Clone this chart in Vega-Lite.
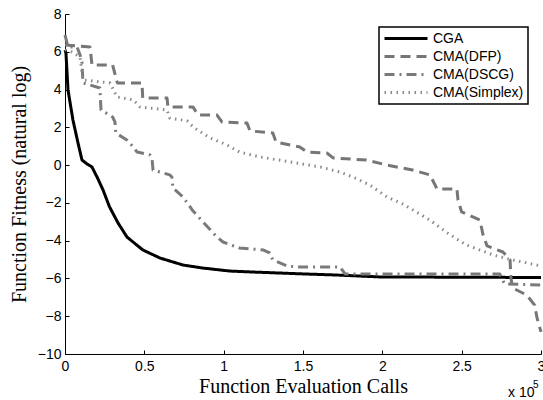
{
  "$schema": "https://vega.github.io/schema/vega-lite/v6.json",
  "width": 476,
  "height": 340,
  "autosize": {"type": "none"},
  "padding": {"left": 65, "top": 14, "right": 2, "bottom": 46},
  "background": "white",
  "resolve": {"axis": {"x": "independent", "y": "independent"}},
  "config": {
    "view": {"stroke": null},
    "axis": {
      "grid": false,
      "domainColor": "black",
      "domainWidth": 1,
      "tickColor": "black",
      "tickSize": -4,
      "labelOverlap": false,
      "labelFlush": false,
      "labelFont": "Liberation Sans",
      "labelFontSize": 14,
      "labelColor": "black",
      "titleFont": "Liberation Serif",
      "titleFontSize": 20,
      "titleFontWeight": "normal",
      "titleColor": "black"
    },
    "legend": {
      "orient": "top-right",
      "offset": 13,
      "strokeColor": "black",
      "strokeWidth": 1.5,
      "fillColor": "white",
      "padding": 4,
      "title": null,
      "labelFont": "Liberation Sans",
      "labelFontSize": 14,
      "labelColor": "black",
      "labelLimit": 300,
      "symbolType": "stroke",
      "symbolSize": 1849,
      "clipHeight": 15,
      "symbolOffset": 0,
      "labelOffset": 4,
      "rowPadding": 3
    }
  },
  "layer": [
    {
      "data": {
        "values": [
          {"method": "CGA", "x": 0, "y": 6.09},
          {"method": "CGA", "x": 0.006, "y": 5.94},
          {"method": "CGA", "x": 0.019, "y": 3.98},
          {"method": "CGA", "x": 0.05, "y": 2.39},
          {"method": "CGA", "x": 0.082, "y": 1.17},
          {"method": "CGA", "x": 0.107, "y": 0.27},
          {"method": "CGA", "x": 0.139, "y": 0.06},
          {"method": "CGA", "x": 0.17, "y": -0.1},
          {"method": "CGA", "x": 0.202, "y": -0.63},
          {"method": "CGA", "x": 0.24, "y": -1.32},
          {"method": "CGA", "x": 0.28, "y": -2.2},
          {"method": "CGA", "x": 0.334, "y": -3.06},
          {"method": "CGA", "x": 0.391, "y": -3.81},
          {"method": "CGA", "x": 0.49, "y": -4.49},
          {"method": "CGA", "x": 0.599, "y": -4.92},
          {"method": "CGA", "x": 0.744, "y": -5.29},
          {"method": "CGA", "x": 0.87, "y": -5.45},
          {"method": "CGA", "x": 1.04, "y": -5.61},
          {"method": "CGA", "x": 1.185, "y": -5.66},
          {"method": "CGA", "x": 1.5, "y": -5.76},
          {"method": "CGA", "x": 1.714, "y": -5.82},
          {"method": "CGA", "x": 1.985, "y": -5.92},
          {"method": "CGA", "x": 3.0, "y": -5.95},

          {"method": "CMA(DFP)", "x": 0, "y": 6.36},
          {"method": "CMA(DFP)", "x": 0.158, "y": 6.25},
          {"method": "CMA(DFP)", "x": 0.17, "y": 5.3},
          {"method": "CMA(DFP)", "x": 0.3, "y": 5.3},
          {"method": "CMA(DFP)", "x": 0.33, "y": 4.35},
          {"method": "CMA(DFP)", "x": 0.485, "y": 4.35},
          {"method": "CMA(DFP)", "x": 0.49, "y": 3.55},
          {"method": "CMA(DFP)", "x": 0.643, "y": 3.55},
          {"method": "CMA(DFP)", "x": 0.649, "y": 3.08},
          {"method": "CMA(DFP)", "x": 0.807, "y": 3.08},
          {"method": "CMA(DFP)", "x": 0.838, "y": 2.65},
          {"method": "CMA(DFP)", "x": 0.958, "y": 2.65},
          {"method": "CMA(DFP)", "x": 0.99, "y": 2.28},
          {"method": "CMA(DFP)", "x": 1.147, "y": 2.23},
          {"method": "CMA(DFP)", "x": 1.166, "y": 1.81},
          {"method": "CMA(DFP)", "x": 1.31, "y": 1.7},
          {"method": "CMA(DFP)", "x": 1.33, "y": 1.22},
          {"method": "CMA(DFP)", "x": 1.48, "y": 0.96},
          {"method": "CMA(DFP)", "x": 1.525, "y": 0.69},
          {"method": "CMA(DFP)", "x": 1.65, "y": 0.64},
          {"method": "CMA(DFP)", "x": 1.69, "y": 0.38},
          {"method": "CMA(DFP)", "x": 1.9, "y": 0.27},
          {"method": "CMA(DFP)", "x": 2.03, "y": 0.0},
          {"method": "CMA(DFP)", "x": 2.19, "y": -0.26},
          {"method": "CMA(DFP)", "x": 2.3, "y": -0.52},
          {"method": "CMA(DFP)", "x": 2.345, "y": -1.26},
          {"method": "CMA(DFP)", "x": 2.47, "y": -1.26},
          {"method": "CMA(DFP)", "x": 2.477, "y": -1.85},
          {"method": "CMA(DFP)", "x": 2.5, "y": -2.48},
          {"method": "CMA(DFP)", "x": 2.615, "y": -2.91},
          {"method": "CMA(DFP)", "x": 2.635, "y": -3.7},
          {"method": "CMA(DFP)", "x": 2.66, "y": -4.28},
          {"method": "CMA(DFP)", "x": 2.76, "y": -4.6},
          {"method": "CMA(DFP)", "x": 2.805, "y": -5.02},
          {"method": "CMA(DFP)", "x": 2.81, "y": -5.92},
          {"method": "CMA(DFP)", "x": 2.82, "y": -6.5},
          {"method": "CMA(DFP)", "x": 2.91, "y": -6.88},
          {"method": "CMA(DFP)", "x": 2.96, "y": -7.41},
          {"method": "CMA(DFP)", "x": 2.975, "y": -8.09},
          {"method": "CMA(DFP)", "x": 3.0, "y": -8.83},

          {"method": "CMA(DSCG)", "x": 0, "y": 6.89},
          {"method": "CMA(DSCG)", "x": 0.019, "y": 6.25},
          {"method": "CMA(DSCG)", "x": 0.076, "y": 6.25},
          {"method": "CMA(DSCG)", "x": 0.095, "y": 5.83},
          {"method": "CMA(DSCG)", "x": 0.107, "y": 5.46},
          {"method": "CMA(DSCG)", "x": 0.113, "y": 4.35},
          {"method": "CMA(DSCG)", "x": 0.22, "y": 4.08},
          {"method": "CMA(DSCG)", "x": 0.227, "y": 2.92},
          {"method": "CMA(DSCG)", "x": 0.3, "y": 2.55},
          {"method": "CMA(DSCG)", "x": 0.315, "y": 2.28},
          {"method": "CMA(DSCG)", "x": 0.32, "y": 1.7},
          {"method": "CMA(DSCG)", "x": 0.39, "y": 1.33},
          {"method": "CMA(DSCG)", "x": 0.43, "y": 0.96},
          {"method": "CMA(DSCG)", "x": 0.454, "y": 0.69},
          {"method": "CMA(DSCG)", "x": 0.536, "y": 0.54},
          {"method": "CMA(DSCG)", "x": 0.548, "y": 0.38},
          {"method": "CMA(DSCG)", "x": 0.555, "y": -0.26},
          {"method": "CMA(DSCG)", "x": 0.66, "y": -0.52},
          {"method": "CMA(DSCG)", "x": 0.674, "y": -0.63},
          {"method": "CMA(DSCG)", "x": 0.68, "y": -1.21},
          {"method": "CMA(DSCG)", "x": 0.744, "y": -1.69},
          {"method": "CMA(DSCG)", "x": 0.807, "y": -2.43},
          {"method": "CMA(DSCG)", "x": 0.87, "y": -3.01},
          {"method": "CMA(DSCG)", "x": 0.958, "y": -3.81},
          {"method": "CMA(DSCG)", "x": 0.996, "y": -4.07},
          {"method": "CMA(DSCG)", "x": 1.1, "y": -4.39},
          {"method": "CMA(DSCG)", "x": 1.248, "y": -4.49},
          {"method": "CMA(DSCG)", "x": 1.29, "y": -4.65},
          {"method": "CMA(DSCG)", "x": 1.31, "y": -5.02},
          {"method": "CMA(DSCG)", "x": 1.4, "y": -5.34},
          {"method": "CMA(DSCG)", "x": 1.46, "y": -5.39},
          {"method": "CMA(DSCG)", "x": 1.733, "y": -5.39},
          {"method": "CMA(DSCG)", "x": 1.765, "y": -5.76},
          {"method": "CMA(DSCG)", "x": 2.74, "y": -5.76},
          {"method": "CMA(DSCG)", "x": 2.77, "y": -6.29},
          {"method": "CMA(DSCG)", "x": 3.0, "y": -6.35},

          {"method": "CMA(Simplex)", "x": 0, "y": 6.1},
          {"method": "CMA(Simplex)", "x": 0.044, "y": 5.99},
          {"method": "CMA(Simplex)", "x": 0.095, "y": 5.72},
          {"method": "CMA(Simplex)", "x": 0.113, "y": 4.51},
          {"method": "CMA(Simplex)", "x": 0.284, "y": 4.35},
          {"method": "CMA(Simplex)", "x": 0.328, "y": 3.61},
          {"method": "CMA(Simplex)", "x": 0.43, "y": 3.45},
          {"method": "CMA(Simplex)", "x": 0.473, "y": 3.08},
          {"method": "CMA(Simplex)", "x": 0.643, "y": 2.92},
          {"method": "CMA(Simplex)", "x": 0.66, "y": 2.49},
          {"method": "CMA(Simplex)", "x": 0.77, "y": 2.34},
          {"method": "CMA(Simplex)", "x": 0.807, "y": 2.02},
          {"method": "CMA(Simplex)", "x": 0.914, "y": 1.44},
          {"method": "CMA(Simplex)", "x": 1.02, "y": 1.07},
          {"method": "CMA(Simplex)", "x": 1.1, "y": 0.69},
          {"method": "CMA(Simplex)", "x": 1.23, "y": 0.43},
          {"method": "CMA(Simplex)", "x": 1.61, "y": -0.1},
          {"method": "CMA(Simplex)", "x": 1.73, "y": -0.36},
          {"method": "CMA(Simplex)", "x": 1.815, "y": -0.63},
          {"method": "CMA(Simplex)", "x": 1.92, "y": -1.05},
          {"method": "CMA(Simplex)", "x": 2.03, "y": -1.69},
          {"method": "CMA(Simplex)", "x": 2.13, "y": -2.06},
          {"method": "CMA(Simplex)", "x": 2.3, "y": -2.91},
          {"method": "CMA(Simplex)", "x": 2.41, "y": -3.59},
          {"method": "CMA(Simplex)", "x": 2.53, "y": -4.23},
          {"method": "CMA(Simplex)", "x": 2.7, "y": -4.76},
          {"method": "CMA(Simplex)", "x": 2.82, "y": -5.02},
          {"method": "CMA(Simplex)", "x": 3.0, "y": -5.34}
        ]
      },
      "mark": {"type": "line", "strokeCap": "butt", "strokeJoin": "round"},
      "encoding": {
        "x": {
          "field": "x",
          "type": "quantitative",
          "scale": {"domain": [0, 3], "nice": false, "zero": false},
          "axis": {
            "values": [0, 0.5, 1, 1.5, 2, 2.5, 3],
            "format": "~g",
            "labelPadding": 9,
            "labelOverlap": false,
            "title": "Function Evaluation Calls",
            "titlePadding": 3
          }
        },
        "y": {
          "field": "y",
          "type": "quantitative",
          "scale": {"domain": [-10, 8], "nice": false, "zero": false},
          "axis": {
            "values": [-10, -8, -6, -4, -2, 0, 2, 4, 6, 8],
            "labelPadding": 8,
            "labelOverlap": false,
            "title": "Function Fitness (natural log)",
            "titlePadding": 8
          }
        },
        "color": {
          "field": "method",
          "type": "nominal",
          "scale": {
            "domain": ["CGA", "CMA(DFP)", "CMA(DSCG)", "CMA(Simplex)"],
            "range": ["#000000", "#767676", "#7a7a7a", "#8a8a8a"]
          }
        },
        "strokeDash": {
          "field": "method",
          "type": "nominal",
          "scale": {
            "domain": ["CGA", "CMA(DFP)", "CMA(DSCG)", "CMA(Simplex)"],
            "range": [[1, 0], [10, 6], [10, 5, 2, 5], [1.5, 4.5]]
          }
        },
        "strokeWidth": {
          "field": "method",
          "type": "nominal",
          "scale": {
            "domain": ["CGA", "CMA(DFP)", "CMA(DSCG)", "CMA(Simplex)"],
            "range": [3, 3, 3, 1.8]
          }
        }
      }
    },
    {
      "data": {"values": [{}]},
      "mark": {"type": "text", "align": "left", "baseline": "alphabetic", "font": "Liberation Sans", "fontSize": 14, "dx": -33, "dy": 43, "color": "black"},
      "encoding": {
        "x": {"datum": 3, "axis": null},
        "y": {"datum": -10, "axis": null},
        "text": {"value": "x 10"}
      }
    },
    {
      "data": {"values": [{}]},
      "mark": {"type": "text", "align": "left", "baseline": "alphabetic", "font": "Liberation Sans", "fontSize": 10, "dx": -8, "dy": 34, "color": "black"},
      "encoding": {
        "x": {"datum": 3, "axis": null},
        "y": {"datum": -10, "axis": null},
        "text": {"value": "5"}
      }
    }
  ]
}
